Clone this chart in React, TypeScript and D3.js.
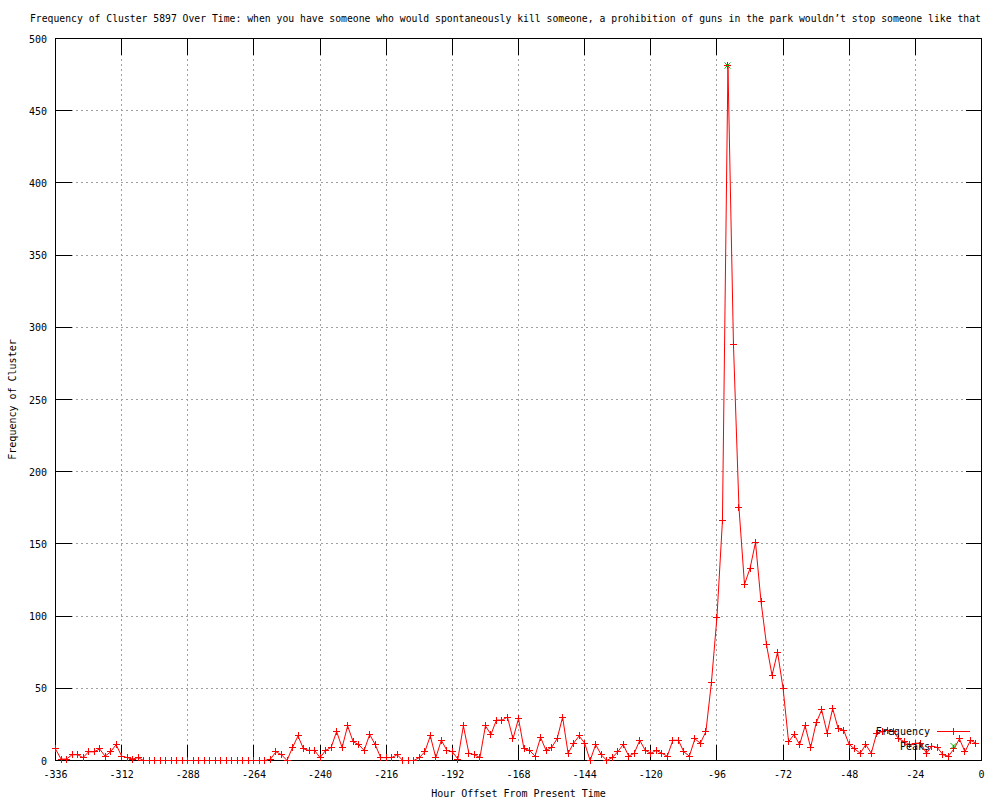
import React, { useEffect, useRef } from 'react';
import * as d3 from 'd3';

const title = "Frequency of Cluster 5897 Over Time: when you have someone who would spontaneously kill someone, a prohibition of guns in the park wouldn\u2019t stop someone like that";

// one sample every 2 hours, from -336 up to -2
const firstHour = -336;
const hourStep = 2;
const frequency = [
  8, 1, 1, 4, 4, 2, 6, 6, 8, 3, 6, 11, 3, 2, 1, 2,
  0, 0, 0, 0, 0, 0, 0, 0, 0, 0, 0, 0, 0, 0, 0, 0, 0, 0, 0, 0, 0, 0, 0,
  1, 6,
  4, 0, 9, 17, 8, 7, 7, 2, 7, 9,
  20, 9, 24, 13, 11, 7, 18, 11, 2, 2,
  2, 4, 0, 0, 0, 2, 6, 17, 2, 14,
  7, 6, 1, 24, 5, 4, 2, 24, 18, 28,
  28, 30, 15, 29, 8, 7, 3, 16, 7, 9,
  15, 30, 5, 12, 17, 12, 0, 11, 4, 0,
  2, 6, 11, 3, 5, 14, 7, 5, 7, 5,
  3, 14, 14, 6, 3, 15, 12, 20, 54,
  99, 166, 481, 288, 175, 122, 133, 151, 110, 80, 59, 75, 50,
  13, 18, 11, 24, 9, 26, 35, 19, 36, 22,
  21, 11, 8, 5, 11, 5, 19, 20, 21, 20,
  15, 13, 11, 12, 12, 5, 10, 9, 4, 3,
  8, 15, 6, 14, 12,
];

const peakHours = [-92];
const peakValues = [481];

const xTicks = [-336, -312, -288, -264, -240, -216, -192, -168, -144, -120, -96, -72, -48, -24, 0];
const yTicks = [0, 50, 100, 150, 200, 250, 300, 350, 400, 450, 500];

const font = '"DejaVu Sans Mono", "Liberation Mono", monospace';

export default function App() {
  const ref = useRef<SVGSVGElement>(null);

  useEffect(() => {
    const svg = d3.select(ref.current);
    svg.selectAll('*').remove();

    const left = 55.5, right = 981.5, top = 38.5, bottom = 760.5;
    const tick = 16;

    const x = d3.scaleLinear().domain([-336, 0]).range([left, right]);
    const y = d3.scaleLinear().domain([0, 500]).range([bottom, top]);
    const snap = (v: number) => Math.round(v - 0.5) + 0.5;

    const data = frequency.map((v, i) => ({ h: firstHour + i * hourStep, v }));
    const peaks = peakHours.map((h, i) => ({ h, v: peakValues[i] }));

    svg.append('rect').attr('width', 1000).attr('height', 800).attr('fill', '#fff');

    // grid
    const grid = svg.append('g').attr('stroke', '#a0a0a0').attr('stroke-dasharray', '2,3')
      .attr('shape-rendering', 'crispEdges');
    xTicks.slice(1, -1).forEach(t => {
      grid.append('line').attr('x1', snap(x(t))).attr('x2', snap(x(t))).attr('y1', top).attr('y2', bottom);
    });
    yTicks.slice(1, -1).forEach(t => {
      grid.append('line').attr('x1', left).attr('x2', right).attr('y1', snap(y(t))).attr('y2', snap(y(t)));
    });

    // border + mirrored ticks
    const axes = svg.append('g').attr('stroke', '#000').attr('shape-rendering', 'crispEdges');
    axes.append('rect').attr('x', left).attr('y', top).attr('width', right - left).attr('height', bottom - top)
      .attr('fill', 'none');
    xTicks.forEach(t => {
      const px = snap(x(t));
      axes.append('line').attr('x1', px).attr('x2', px).attr('y1', bottom).attr('y2', bottom - tick);
      axes.append('line').attr('x1', px).attr('x2', px).attr('y1', top).attr('y2', top + tick);
    });
    yTicks.forEach(t => {
      const py = snap(y(t));
      axes.append('line').attr('x1', left).attr('x2', left + tick).attr('y1', py).attr('y2', py);
      axes.append('line').attr('x1', right).attr('x2', right - tick).attr('y1', py).attr('y2', py);
    });

    const text = svg.append('g').attr('font-family', font).attr('font-size', 10).attr('fill', '#000');

    xTicks.forEach(t => {
      text.append('text').attr('x', x(t)).attr('y', 778).attr('text-anchor', 'middle').text(t);
    });
    yTicks.forEach(t => {
      text.append('text').attr('x', 47).attr('y', y(t) + 4).attr('text-anchor', 'end').text(t);
    });

    // title runs off the page in the original; a hair smaller so it stays inside
    text.append('text').attr('x', 30).attr('y', 22).attr('font-size', 9.75).text(title);
    text.append('text').attr('x', (left + right) / 2).attr('y', 797).attr('text-anchor', 'middle')
      .text('Hour Offset From Present Time');
    text.append('text').attr('transform', `translate(16,${(top + bottom) / 2}) rotate(-90)`)
      .attr('text-anchor', 'middle').text('Frequency of Cluster');

    // frequency series
    const line = d3.line<{ h: number; v: number }>().x(d => x(d.h)).y(d => y(d.v));
    svg.append('path').datum(data).attr('d', line).attr('fill', 'none').attr('stroke', '#ff0000').attr('stroke-width', 1);

    const plus = (px: number, py: number, s = 3.5) =>
      `M${px - s},${py}H${px + s}M${px},${py - s}V${py + s}`;
    const cross = (px: number, py: number, s = 3) =>
      `M${px - s},${py - s}L${px + s},${py + s}M${px - s},${py + s}L${px + s},${py - s}`;

    svg.append('path')
      .attr('d', data.map(d => plus(snap(x(d.h)), snap(y(d.v)))).join(''))
      .attr('stroke', '#ff0000').attr('fill', 'none').attr('shape-rendering', 'crispEdges');

    svg.append('path')
      .attr('d', peaks.map(d => cross(snap(x(d.h)), snap(y(d.v)))).join(''))
      .attr('stroke', '#00c000').attr('fill', 'none');

    // key
    const key = svg.append('g').attr('font-family', font).attr('font-size', 10);
    key.append('text').attr('x', 930).attr('y', 735).attr('text-anchor', 'end').text('Frequency');
    key.append('line').attr('x1', 937).attr('x2', 970).attr('y1', 731.5).attr('y2', 731.5).attr('stroke', '#ff0000');
    key.append('path').attr('d', plus(953.5, 731.5)).attr('stroke', '#ff0000').attr('shape-rendering', 'crispEdges');
    key.append('text').attr('x', 930).attr('y', 749.5).attr('text-anchor', 'end').text('Peaks');
    key.append('path').attr('d', cross(953.5, 746)).attr('stroke', '#00c000');
  }, []);

  return (
    <svg ref={ref} width={1000} height={800}
      style={{ position: 'absolute', left: 0, top: 0, display: 'block' }} />
  );
}
